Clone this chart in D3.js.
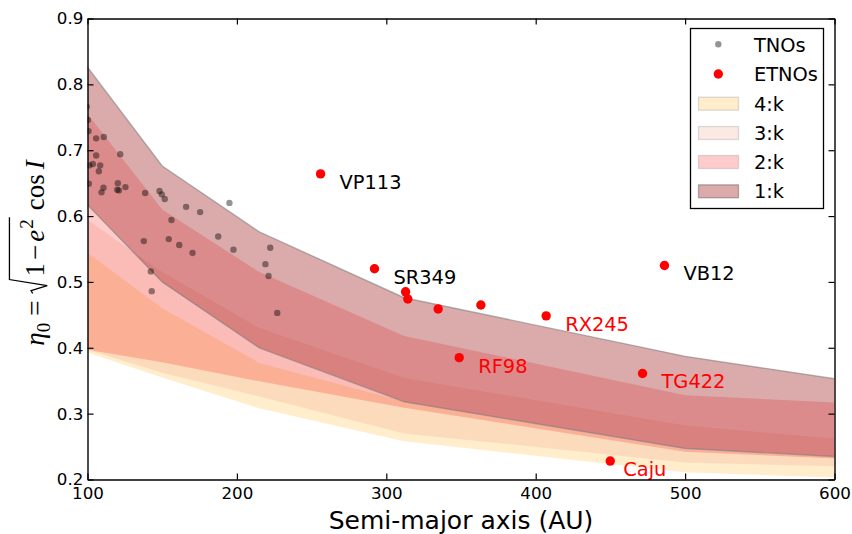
<!DOCTYPE html>
<html>
<head>
<meta charset="utf-8">
<script src="https://cdn.jsdelivr.net/npm/d3@7"></script>
<style>
  body { margin: 0; background: #fff; }
  svg { display: block; font-family: "DejaVu Sans", sans-serif; }
</style>
</head>
<body>
<svg id="chart" width="852" height="534"></svg>
<script>
// Semi-major axis samples shared by the resonance bands (AU)
const bandA = [100, 150, 215, 312, 500, 600];
// eta_0 limits of each n:k resonance band
const band1Upper = [0.826, 0.676, 0.576, 0.476, 0.387, 0.353];
const band1Lower = [0.617, 0.500, 0.400, 0.318, 0.247, 0.235];
const band2Upper = [0.755, 0.610, 0.515, 0.418, 0.328, 0.317];
const band2Lower = [0.397, 0.378, 0.349, 0.309, 0.242, 0.232];
const band3Upper = [0.594, 0.515, 0.430, 0.354, 0.282, 0.262];
const band3Lower = [0.397, 0.362, 0.326, 0.270, 0.226, 0.220];
const band4Upper = [0.544, 0.460, 0.377, 0.318, 0.245, 0.235];
const band4Lower = [0.393, 0.355, 0.308, 0.258, 0.211, 0.203];

// Trans-Neptunian objects
const tnoA = [99.5, 100.2, 100.7, 105.8, 110.9, 121.9, 105.8, 103.6, 101.3, 108.5,
              107.6, 100.9, 110.7, 109.4, 120.3, 119.9, 121.0, 125.4, 138.6, 148.2,
              149.7, 151.7, 166.0, 175.4, 195.0, 156.2, 137.7, 154.4, 161.4, 170.3,
              187.5, 197.7, 222.3, 219.1, 221.2, 142.4, 143.0, 227.0];
const tnoEta = [0.766, 0.746, 0.729, 0.718, 0.720, 0.694, 0.692, 0.679, 0.677, 0.677,
                0.668, 0.649, 0.643, 0.636, 0.650, 0.640, 0.639, 0.644, 0.635, 0.638,
                0.633, 0.626, 0.614, 0.606, 0.620, 0.594, 0.562, 0.565, 0.556, 0.544,
                0.569, 0.549, 0.552, 0.527, 0.509, 0.516, 0.486, 0.453];

// Extreme TNOs
const etnoA = [256.0, 292.1, 312.9, 314.4, 334.7, 363.3, 407.0, 348.8, 471.5, 486.2, 449.9];
const etnoEta = [0.664, 0.520, 0.485, 0.474, 0.459, 0.465, 0.4485, 0.385, 0.361, 0.525, 0.228];
const etnoNames = ["VP113", "SR349", "", "", "", "", "RX245", "RF98", "TG422", "VB12", "Caju"];
const etnoNameColors = ["black", "black", "", "", "", "", "red", "red", "red", "black", "red"];

const xTicks = [100, 200, 300, 400, 500, 600];
const yTicks = [0.2, 0.3, 0.4, 0.5, 0.6, 0.7, 0.8, 0.9];
const legendLabels = ["TNOs", "ETNOs", "4:k", "3:k", "2:k", "1:k"];

const SANS = "'DejaVu Sans', sans-serif";
const SERIF = "'Liberation Serif', 'DejaVu Serif', serif";

const svg = d3.select("#chart");
const X0 = 87.5, X1 = 834.5, Y0 = 18.5, Y1 = 479.5;
const x = d3.scaleLinear().domain([100, 600]).range([X0, X1]);
const y = d3.scaleLinear().domain([0.2, 0.9]).range([Y1, Y0]);

svg.append("defs").append("clipPath").attr("id", "plotClip")
  .append("rect").attr("x", X0).attr("y", Y0).attr("width", X1 - X0).attr("height", Y1 - Y0);

const plot = svg.append("g").attr("clip-path", "url(#plotClip)");

// Bands, drawn from 4:k up to 1:k
const bands = [
  { hi: band4Upper, lo: band4Lower, color: "orange", alpha: 0.2 },
  { hi: band3Upper, lo: band3Lower, color: "darksalmon", alpha: 0.2 },
  { hi: band2Upper, lo: band2Lower, color: "red", alpha: 0.2 },
  { hi: band1Upper, lo: band1Lower, color: "brown", alpha: 0.4 }
];
const area = d3.area().x(d => x(d.a)).y0(d => y(d.lo)).y1(d => y(d.hi));
bands.forEach(b => {
  const pts = bandA.map((a, i) => ({ a, lo: b.lo[i], hi: b.hi[i] }));
  plot.append("path").attr("d", area(pts))
    .attr("fill", b.color).attr("fill-opacity", b.alpha).attr("stroke", "none");
});
// outline of the 1:k band
const edge = d3.line().x(d => x(d[0])).y(d => y(d[1]));
[band1Upper, band1Lower].forEach(arr => {
  plot.append("path").attr("d", edge(bandA.map((a, i) => [a, arr[i]])))
    .attr("fill", "none").attr("stroke", "#7a7a7a").attr("stroke-opacity", 0.55)
    .attr("stroke-width", 1.4);
});

// TNOs
plot.append("g").selectAll("circle").data(tnoA).join("circle")
  .attr("cx", d => x(d)).attr("cy", (d, i) => y(tnoEta[i])).attr("r", 3.2)
  .attr("fill", "#000").attr("fill-opacity", 0.42);

// ETNOs
plot.append("g").selectAll("circle").data(etnoA).join("circle")
  .attr("cx", d => x(d)).attr("cy", (d, i) => y(etnoEta[i])).attr("r", 4.7)
  .attr("fill", "#ff0000");

// names beside the ETNOs
etnoNames.forEach((name, i) => {
  if (!name) return;
  const dx = name === "Caju" ? 13 : 19;
  svg.append("text").attr("x", x(etnoA[i]) + dx).attr("y", y(etnoEta[i]) + 15)
    .attr("font-family", SANS).attr("font-size", "19.4px")
    .attr("fill", etnoNameColors[i]).text(name);
});

// Axes with inward ticks on all four sides
const styleAxis = g => {
  g.attr("font-family", SANS).attr("font-size", 16.7);
  g.selectAll(".domain").attr("stroke", "#000").attr("stroke-width", 1.4);
  g.selectAll(".tick line").attr("stroke", "#000").attr("stroke-width", 1.2);
  g.selectAll("text").attr("fill", "#000");
};
svg.append("g").attr("transform", `translate(0,${Y1})`)
  .call(d3.axisBottom(x).tickValues(xTicks).tickSize(-6).tickSizeOuter(0).tickPadding(8).tickFormat(d3.format("d")))
  .call(styleAxis);
svg.append("g").attr("transform", `translate(0,${Y0})`)
  .call(d3.axisTop(x).tickValues(xTicks).tickSize(-6).tickSizeOuter(0).tickFormat(""))
  .call(styleAxis);
svg.append("g").attr("transform", `translate(${X0},0)`)
  .call(d3.axisLeft(y).tickValues(yTicks).tickSize(-6).tickSizeOuter(0).tickPadding(4.2).tickFormat(d3.format(".1f")))
  .call(styleAxis);
svg.append("g").attr("transform", `translate(${X1},0)`)
  .call(d3.axisRight(y).tickValues(yTicks).tickSize(-6).tickSizeOuter(0).tickFormat(""))
  .call(styleAxis);

// x-axis title
svg.append("text").attr("x", (X0 + X1) / 2).attr("y", 529).attr("text-anchor", "middle")
  .attr("font-family", SANS).attr("font-size", "25px").attr("fill", "#000")
  .text("Semi-major axis (AU)");

// y-axis title: eta_0 = sqrt(1 - e^2) cos I, set piece by piece
(function yTitle() {
  const fs = 27, sub = 19;
  const g = svg.append("g");
  let cx = 0;
  const put = (str, opts = {}) => {
    const t = g.append("text").attr("x", cx).attr("y", opts.dy || 0)
      .attr("font-family", SERIF)
      .attr("font-size", (opts.size || fs) + "px")
      .attr("font-style", opts.italic ? "italic" : "normal")
      .attr("fill", "#000").text(str);
    cx += t.node().getComputedTextLength() + (opts.gap || 0);
    return t;
  };
  put("\u03B7", { italic: true });
  put("0", { size: sub, dy: 6, gap: 7 });
  put("=", { gap: 7 });
  const r0 = cx;
  cx += 17;
  put("1", { gap: 3 });
  put("\u2212", { gap: 3 });
  put("e", { italic: true, gap: 1 });
  put("2", { size: sub, dy: -11, gap: 2 });
  const radEnd = cx;
  g.append("path")
    .attr("d", `M${r0},${-0.42 * fs} L${r0 + 3},${-0.48 * fs} L${r0 + 8},${0.12 * fs} L${r0 + 14},${-1.28 * fs} L${radEnd},${-1.28 * fs}`)
    .attr("fill", "none").attr("stroke", "#000").attr("stroke-width", 1.3);
  cx += 7;
  put("cos", { gap: 5 });
  put("I", { italic: true });
  const total = cx;
  g.attr("transform", `translate(44,${253 + total / 2}) rotate(-90)`);
})();

// Legend
const lg = svg.append("g");
lg.append("rect").attr("x", 690.5).attr("y", 28.5).attr("width", 133).attr("height", 180)
  .attr("fill", "#fff").attr("stroke", "#000").attr("stroke-width", 1.3);
const rowBase = [51.7, 81, 110.7, 140, 169, 198.3];
lg.append("circle").attr("cx", 718.3).attr("cy", 44.3).attr("r", 3.2)
  .attr("fill", "#000").attr("fill-opacity", 0.42);
lg.append("circle").attr("cx", 718.3).attr("cy", 74).attr("r", 4.7).attr("fill", "#ff0000");
bands.forEach((b, i) => {
  lg.append("rect").attr("x", 698.5).attr("y", rowBase[i + 2] - 13.5).attr("width", 40).attr("height", 13)
    .attr("fill", b.color).attr("fill-opacity", b.alpha)
    .attr("stroke", "#000").attr("stroke-opacity", b.alpha * 0.65).attr("stroke-width", 1.3);
});
legendLabels.forEach((lab, i) => {
  lg.append("text").attr("x", 754).attr("y", rowBase[i])
    .attr("font-family", SANS).attr("font-size", "19.4px")
    .attr("fill", "#000").text(lab);
});
</script>
</body>
</html>
